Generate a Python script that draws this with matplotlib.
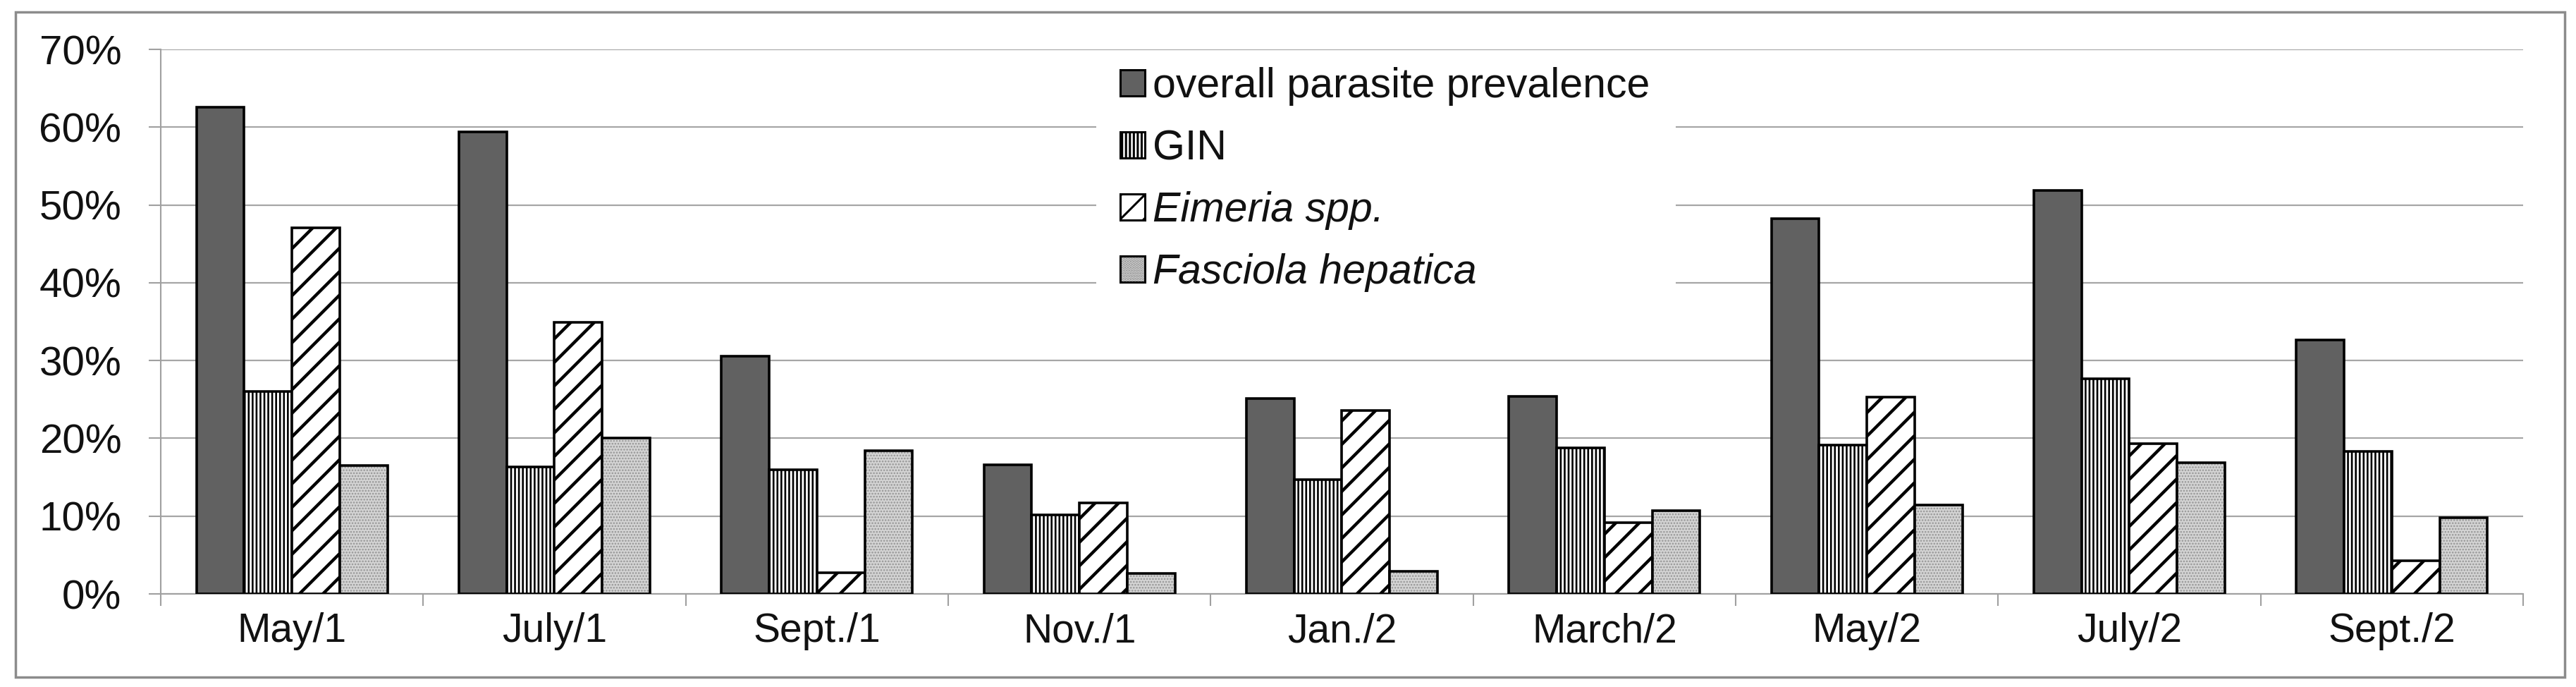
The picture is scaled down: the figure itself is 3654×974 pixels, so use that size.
import matplotlib
matplotlib.use("Agg")
import matplotlib.pyplot as plt
from matplotlib.patches import Rectangle
from matplotlib.legend_handler import HandlerTuple
import numpy as np

# ---- data ----
categories = ["May/1", "July/1", "Sept./1", "Nov./1", "Jan./2", "March/2", "May/2", "July/2", "Sept./2"]
overall = [62.6, 59.4, 30.6, 16.6, 25.1, 25.4, 48.2, 51.9, 32.6]
gin = [26.0, 16.3, 16.0, 10.2, 14.7, 18.8, 19.1, 27.7, 18.3]
eimeria = [47.1, 34.9, 2.7, 11.7, 23.6, 9.2, 25.3, 19.3, 4.3]
fasciola = [16.5, 20.0, 18.4, 2.6, 2.9, 10.7, 11.4, 16.9, 9.8]
series_labels = ["overall parasite prevalence", "GIN", "Eimeria spp.", "Fasciola hepatica"]
yticks = [0, 10, 20, 30, 40, 50, 60, 70]
ytick_labels = ["0%", "10%", "20%", "30%", "40%", "50%", "60%", "70%"]

plt.rcParams['font.family'] = ['Liberation Sans', 'DejaVu Sans']
plt.rcParams['hatch.linewidth'] = 2.2


def set_hlw(container, lw):
    for p in container:
        if hasattr(p, "set_hatch_linewidth"):
            p.set_hatch_linewidth(lw)


W, H = 3655, 974
fig = plt.figure(figsize=(W / 100, H / 100), dpi=100)
ax = fig.add_axes([228 / W, 1 - 842 / H, (3579 - 228) / W, (842 - 70) / H])

# outer frame
fig.patches.append(Rectangle((22 / W, 1 - 960 / H), (3638 - 22) / W, (960 - 17) / H,
                             transform=fig.transFigure, fill=False,
                             edgecolor="#8c8c8c", linewidth=2.5))

x = np.arange(len(categories))
w = 1 / 5.5
offs = np.array([-1.5, -0.5, 0.5, 1.5]) * w
edge_lw = 2.6

b0 = ax.bar(x + offs[0], overall, w, facecolor="#616161", edgecolor="black", linewidth=edge_lw, zorder=3)
b1 = ax.bar(x + offs[1], gin, w, facecolor="white", edgecolor="black", linewidth=edge_lw,
            hatch="|||", zorder=3)
set_hlw(b1, 1.9)
b2 = ax.bar(x + offs[2], eimeria, w, facecolor="white", edgecolor="black", linewidth=edge_lw,
            hatch="/", zorder=3)
set_hlw(b2, 3.2)
b3f = ax.bar(x + offs[3], fasciola, w, facecolor="#d4d4d4", edgecolor="#959595", linewidth=0,
             hatch="....", zorder=3)
set_hlw(b3f, 1.2)
b3 = ax.bar(x + offs[3], fasciola, w, facecolor="none", edgecolor="black", linewidth=edge_lw, zorder=4)

ax.set_xlim(-0.5, len(categories) - 0.5)
ax.set_ylim(0, 70)
ax.set_yticks(yticks)
ax.set_yticklabels(ytick_labels)
ax.set_xticks(np.arange(len(categories) + 1) - 0.5)
ax.set_xticklabels([])
ax.set_xticks(x, minor=True)
ax.set_xticklabels(categories, minor=True)

ax.tick_params(axis="x", which="major", length=12, width=1.5, color="#a0a0a0", direction="out")
ax.tick_params(axis="x", which="minor", length=0, pad=19, labelsize=41, labelcolor="#111111")
ax.tick_params(axis="y", which="major", length=12, width=1.5, color="#a0a0a0", pad=28,
               labelsize=42, labelcolor="#111111")

ax.yaxis.grid(True, color="#a6a6a6", linewidth=1.6)
ax.set_axisbelow(True)
for s in ["top", "right"]:
    ax.spines[s].set_visible(False)
ax.spines["left"].set_color("#a0a0a0")
ax.spines["left"].set_linewidth(1.5)
ax.spines["bottom"].set_color("#a0a0a0")
ax.spines["bottom"].set_linewidth(1.5)

# white legend background masking the gridlines
ax.add_patch(Rectangle((1555 / W, 1 - 445 / H), (2377 - 1555) / W, (445 - 74) / H,
                       transform=fig.transFigure, facecolor="white", edgecolor="none",
                       zorder=1, clip_on=False))

# legend handles
h0 = Rectangle((0, 0), 1, 1, facecolor="#616161", edgecolor="black", linewidth=2.2)
h1 = Rectangle((0, 0), 1, 1, facecolor="white", edgecolor="black", linewidth=2.2, hatch="|||")
h2 = Rectangle((0, 0), 1, 1, facecolor="white", edgecolor="black", linewidth=2.2, hatch="/")
h3f = Rectangle((0, 0), 1, 1, facecolor="#d4d4d4", edgecolor="#959595", linewidth=0, hatch="....")
h3e = Rectangle((0, 0), 1, 1, facecolor="none", edgecolor="black", linewidth=2.2)
for h, lw in [(h1, 2.0), (h2, 2.6), (h3f, 1.0)]:
    if hasattr(h, "set_hatch_linewidth"):
        h.set_hatch_linewidth(lw)
leg = ax.legend([h0, h1, h2, (h3f, h3e)], series_labels, loc="upper left",
                bbox_to_anchor=(1589 / W, 1 - 95 / H), bbox_transform=fig.transFigure,
                fontsize=42.5, frameon=False, handlelength=0.59, handleheight=0.59,
                handletextpad=0.19, labelspacing=0.56, borderpad=0, borderaxespad=0,
                handler_map={tuple: HandlerTuple(ndivide=1, pad=0)})
leg.set_zorder(6)
for t in leg.get_texts()[2:]:
    t.set_fontstyle("italic")
for t in leg.get_texts():
    t.set_color("#111111")

fig.savefig("out.png", dpi=100)
